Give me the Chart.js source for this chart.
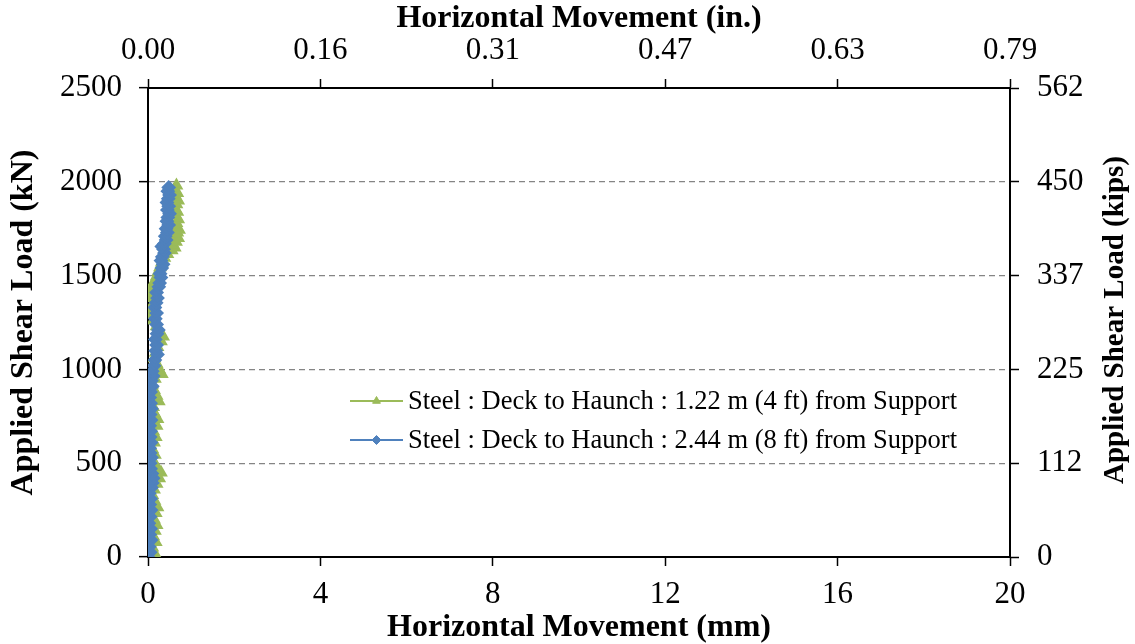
<!DOCTYPE html>
<html>
<head>
<meta charset="utf-8">
<script src="https://cdn.jsdelivr.net/npm/chart.js@4/dist/chart.umd.min.js"></script>
<style>
html,body{margin:0;padding:0;background:#fff;}
canvas{display:block;}
</style>
</head>
<body>
<canvas id="c" width="1135" height="644"></canvas>
<script>
// ---- data ----
const seriesNames = [
  'Steel : Deck to Haunch : 1.22 m (4 ft) from Support',
  'Steel : Deck to Haunch : 2.44 m (8 ft) from Support'
];
// Series 1 (1.22 m from support): horizontal movement (mm) and applied shear load (kN)
const s1mm = [0.08,0.15,0.10,0.18,0.12,0.16,0.20,0.14,0.18,0.22,
              0.15,0.10,0.14,0.20,0.26,0.30,0.20,0.12,0.16,0.10,
              0.14,0.18,0.12,0.20,0.22,0.15,0.12,0.25,0.20,0.14,
              0.10,0.16,0.32,0.26,0.20,0.15,0.18,0.22,0.30,0.35,
              0.28,0.20,0.12,0.05,0.08,0.12,0.02,0.00,0.04,0.10,
              0.15,0.20,0.24,0.28,0.32,0.38,0.45,0.55,0.62,0.58,
              0.65,0.70,0.60,0.68,0.72,0.62,0.66,0.70,0.64,0.68,
              0.62,0.66,0.70,0.64,0.68,0.62,0.66];
const s1kN = [0,20,50,80,110,140,170,200,235,265,
              300,330,360,390,420,450,480,510,545,575,
              610,640,670,700,735,765,800,830,860,890,
              920,950,975,1000,1030,1060,1090,1120,1150,1175,
              1200,1230,1260,1290,1320,1350,1380,1400,1420,1445,
              1470,1495,1520,1545,1570,1595,1615,1635,1650,1665,
              1680,1700,1715,1730,1745,1760,1780,1800,1820,1840,
              1860,1880,1900,1920,1940,1960,1980];
// Series 2 (2.44 m from support)
const s2mm = [0.00,0.05,0.03,0.07,0.04,0.06,0.02,0.05,0.07,0.04,
              0.06,0.03,0.08,0.10,0.12,0.09,0.06,0.05,0.08,0.05,
              0.04,0.07,0.05,0.06,0.04,0.07,0.05,0.08,0.06,0.04,
              0.06,0.10,0.08,0.12,0.10,0.14,0.16,0.22,0.18,0.20,
              0.17,0.21,0.24,0.20,0.17,0.20,0.16,0.19,0.22,0.20,
              0.25,0.27,0.30,0.28,0.32,0.35,0.30,0.33,0.38,0.36,
              0.32,0.38,0.42,0.40,0.45,0.42,0.48,0.44,0.46,0.50,
              0.45,0.48,0.44,0.47,0.50,0.46,0.48];
const s2kN = [0,25,55,90,120,150,180,215,250,280,
              310,340,370,395,420,445,470,500,530,555,
              580,610,640,670,700,730,760,790,820,850,
              880,910,940,965,990,1020,1050,1080,1100,1130,
              1160,1190,1210,1240,1270,1300,1330,1355,1380,1410,
              1440,1460,1490,1510,1540,1560,1580,1600,1620,1640,
              1655,1670,1690,1710,1730,1750,1770,1790,1810,1830,
              1850,1870,1890,1910,1930,1950,1970];
// axes
const mmTicks = [0,4,8,12,16,20];
const mmTickLabels = ['0','4','8','12','16','20'];
const inTickLabels = ['0.00','0.16','0.31','0.47','0.63','0.79'];
const kNTicks = [0,500,1000,1500,2000,2500];
const kNTickLabels = ['0','500','1000','1500','2000','2500'];
const kipsTickLabels = ['0','112','225','337','450','562'];
const titles = {
  bottom: 'Horizontal Movement (mm)',
  top: 'Horizontal Movement (in.)',
  left: 'Applied Shear Load (kN)',
  right: 'Applied Shear Load (kips)'
};

// ---- chart ----
const FONT = "'Liberation Serif','Times New Roman',serif";
const green = '#9BBB59', blue = '#4F81BD';
const pts = (xs, ys) => xs.map((x, i) => ({x: x, y: ys[i]}));
const fixTicks = arr => (s => { s.ticks = arr.map(v => ({value: v})); });
const tickFont = {family: FONT, size: 31};
const titleFont = {family: FONT, size: 32, weight: 'bold', lineHeight: 1};
const axisBorder = {display: true, color: '#000', width: 2};

const legendPlugin = {
  id: 'customLegend',
  afterDraw(chart) {
    const ctx = chart.ctx;
    ctx.save();
    const x0 = 350, x1 = 403, tx = 408;
    const rows = [401, 440];
    chart.data.datasets.forEach((ds, i) => {
      const y = rows[i];
      ctx.strokeStyle = ds.borderColor;
      ctx.lineWidth = 2;
      ctx.beginPath(); ctx.moveTo(x0, y); ctx.lineTo(x1, y); ctx.stroke();
      ctx.fillStyle = ds.pointBackgroundColor;
      ctx.strokeStyle = ds.pointBorderColor;
      ctx.lineWidth = 1;
      Chart.helpers.drawPoint(ctx, {pointStyle: ds.pointStyle, radius: 4.5, borderWidth: 1, rotation: 0}, (x0 + x1) / 2, y);
      ctx.fillStyle = '#000';
      ctx.font = "26.5px " + FONT;
      ctx.textBaseline = 'middle';
      ctx.textAlign = 'left';
      ctx.fillText(ds.label, tx, y + 1);
    });
    // right axis title, reading bottom-to-top
    ctx.translate(1116, 320);
    ctx.rotate(-Math.PI / 2);
    ctx.font = "bold 29px " + FONT;
    ctx.textAlign = 'center';
    ctx.textBaseline = 'middle';
    ctx.fillStyle = '#000';
    ctx.fillText(titles.right, 0, 0);
    ctx.restore();
  }
};

new Chart(document.getElementById('c'), {
  type: 'scatter',
  data: {
    datasets: [
      {
        label: seriesNames[0],
        data: pts(s1mm, s1kN),
        showLine: true, order: 2,
        borderColor: green, backgroundColor: green,
        pointBackgroundColor: green, pointBorderColor: green,
        pointStyle: 'triangle', pointRadius: 6, borderWidth: 2,
        xAxisID: 'x', yAxisID: 'y'
      },
      {
        label: seriesNames[1],
        data: pts(s2mm, s2kN),
        showLine: true, order: 1,
        borderColor: blue, backgroundColor: blue,
        pointBackgroundColor: blue, pointBorderColor: blue,
        pointStyle: 'rectRot', pointRadius: 6, borderWidth: 2,
        xAxisID: 'x', yAxisID: 'y'
      }
    ]
  },
  options: {
    responsive: false,
    animation: false,
    events: [],
    layout: {padding: 0},
    plugins: {legend: {display: false}, tooltip: {enabled: false}},
    scales: {
      x: {
        type: 'linear', position: 'bottom', min: 0, max: 20,
        afterBuildTicks: fixTicks(mmTicks),
        afterFit: s => { s.height = 87; },
        border: axisBorder,
        grid: {drawOnChartArea: false, tickLength: 9, tickColor: '#000', tickWidth: 1.5},
        ticks: {color: '#000', font: tickFont, padding: 10, maxRotation: 0, callback: (v, i) => mmTickLabels[i]},
        title: {display: true, text: titles.bottom, color: '#000', font: titleFont, padding: {top: 0, bottom: 0}}
      },
      x2: {
        type: 'linear', position: 'top', min: 0, max: 20,
        afterBuildTicks: fixTicks(mmTicks),
        afterFit: s => { s.height = 88; },
        border: axisBorder,
        grid: {drawOnChartArea: false, tickLength: 9, tickColor: '#000', tickWidth: 1.5},
        ticks: {color: '#000', font: tickFont, padding: 10, maxRotation: 0, callback: (v, i) => inTickLabels[i]},
        title: {display: true, text: titles.top, color: '#000', font: titleFont, padding: {top: 3, bottom: 0}}
      },
      y: {
        type: 'linear', position: 'left', min: 0, max: 2500,
        afterBuildTicks: fixTicks(kNTicks),
        afterFit: s => { s.width = 148; },
        border: {display: true, color: '#000', width: 2, dash: [6, 4]},
        grid: {
          drawOnChartArea: true, tickLength: 9, tickColor: '#000', tickWidth: 1.5, tickBorderDash: [],
          color: c => (c.tick && (c.tick.value === 0 || c.tick.value === 2500)) ? 'rgba(0,0,0,0)' : '#858585',
          lineWidth: 1.3
        },
        ticks: {color: '#000', font: tickFont, padding: 17, callback: (v, i) => kNTickLabels[i]},
        title: {display: true, text: titles.left, color: '#000', font: titleFont, padding: {top: 8, bottom: 0}}
      },
      y2: {
        type: 'linear', position: 'right', min: 0, max: 2500,
        afterBuildTicks: fixTicks(kNTicks),
        afterFit: s => { s.width = 125; },
        border: axisBorder,
        grid: {drawOnChartArea: false, tickLength: 9, tickColor: '#000', tickWidth: 1.5},
        ticks: {color: '#000', font: tickFont, padding: 18, callback: (v, i) => kipsTickLabels[i]},
        title: {display: false}
      }
    }
  },
  plugins: [legendPlugin]
});
</script>
</body>
</html>
